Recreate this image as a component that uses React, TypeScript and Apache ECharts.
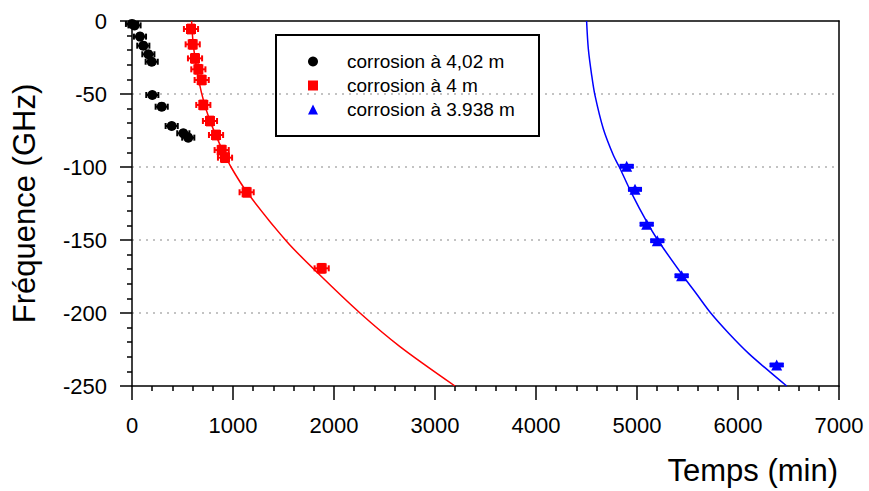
import React, { useEffect, useRef } from 'react';
import * as echarts from 'echarts';

// Measured points (temps in min, fréquence in GHz)
const blackT = [0, 25, 79, 112, 162, 195, 201, 294, 393, 508, 557];
const blackF = [-2, -3, -10.7, -16.9, -22.8, -27.9, -50.7, -58.7, -71.9, -76.9, -79.9];

const redT = [584, 601, 624, 657, 690, 706, 772, 832, 888, 921, 1135, 1878];
const redF = [-5.5, -16, -25.6, -33.1, -40.4, -57.5, -68.5, -78.1, -88.4, -93.6, -117.3, -169.4];

const blueT = [4898, 4980, 5096, 5201, 5442, 6383];
const blueF = [-99.5, -115.3, -139.2, -150.5, -174.5, -235.6];

// Fit curves
const redFitT = [590, 605, 630, 665, 710, 770, 835, 900, 980, 1136, 1532, 1845, 2257, 2653, 3198];
const redFitF = [0, -15, -28, -42, -55, -68, -79, -89, -100, -117, -151, -173, -200, -223, -250];

const blueFitT = [4501, 4518, 4551, 4584, 4667, 4766, 4825, 4940, 5100, 5205, 5460, 5590, 5730, 5910, 6110, 6310, 6482];
const blueFitF = [0, -19, -37, -51, -74, -92, -100, -117, -138, -150, -175, -187, -200, -214, -228, -240, -250];

const seriesNames = ['corrosion à 4,02 m', 'corrosion à 4 m', 'corrosion à 3.938 m'];
const colors = ['#000000', '#ff0000', '#0000ff'];

const FONT = '"Liberation Sans", Arial, sans-serif';

function zip(a: number[], b: number[]) {
  return a.map((v, i) => [v, b[i]]);
}

function errorBars(color: string, ex: number, ey: number, cap: number, xcap: number) {
  return (_params: any, api: any) => {
    const t = api.value(0);
    const f = api.value(1);
    const c = api.coord([t, f]);
    const l = api.coord([t - ex, f]);
    const r = api.coord([t + ex, f]);
    const top = api.coord([t, f + ey]);
    const bot = api.coord([t, f - ey]);
    const style = { stroke: color, lineWidth: 2 };
    return {
      type: 'group',
      children: [
        { type: 'line', shape: { x1: l[0], y1: c[1], x2: r[0], y2: c[1] }, style },
        { type: 'line', shape: { x1: l[0], y1: c[1] - xcap, x2: l[0], y2: c[1] + xcap }, style },
        { type: 'line', shape: { x1: r[0], y1: c[1] - xcap, x2: r[0], y2: c[1] + xcap }, style },
        { type: 'line', shape: { x1: c[0], y1: top[1], x2: c[0], y2: bot[1] }, style },
        { type: 'line', shape: { x1: c[0] - cap, y1: top[1], x2: c[0] + cap, y2: top[1] }, style },
        { type: 'line', shape: { x1: c[0] - cap, y1: bot[1], x2: c[0] + cap, y2: bot[1] }, style },
      ],
    };
  };
}

export default function App() {
  const ref = useRef<HTMLDivElement>(null);
  useEffect(() => {
    const chart = echarts.init(ref.current!, null, { renderer: 'svg' });
    const frameAxis = {
      axisLine: { show: true, onZero: false, lineStyle: { color: '#000', width: 1.5 } },
      axisTick: { show: false },
      axisLabel: { show: false },
      splitLine: { show: false },
    };
    const option: any = {
      animation: false,
      backgroundColor: '#ffffff',
      grid: {
        left: 132,
        top: 21,
        right: 30,
        bottom: 105,
      },
      legend: {
        data: seriesNames,
        orient: 'vertical',
        left: 308,
        top: 52,
        padding: 0,
        itemGap: 5,
        itemWidth: 10,
        itemHeight: 10,
        textStyle: { fontFamily: FONT, fontSize: 19, color: '#000', padding: [0, 0, 0, 24] },
      },
      graphic: [
        {
          type: 'rect',
          shape: { x: 276, y: 35, width: 263, height: 101 },
          style: { fill: 'transparent', stroke: '#000', lineWidth: 2 },
          z: 10,
        },
      ],
      xAxis: [
        {
          type: 'value',
          min: 0,
          max: 7000,
          interval: 1000,
          name: 'Temps (min)',
          nameLocation: 'end',
          nameGap: -1,
          nameTextStyle: {
            fontFamily: FONT,
            fontSize: 31,
            color: '#000',
            align: 'right',
            verticalAlign: 'top',
            padding: [69, 0, 0, 0],
          },
          axisLine: { onZero: false, lineStyle: { color: '#000', width: 1.5 } },
          axisTick: { inside: false, length: 14, lineStyle: { color: '#000', width: 1.5 } },
          minorTick: { show: true, splitNumber: 5, length: 5, lineStyle: { color: '#000', width: 1.5 } },
          axisLabel: {
            fontFamily: FONT,
            fontSize: 22,
            color: '#000',
            margin: 28,
            formatter: (v: number) => String(v),
          },
          splitLine: { show: false },
        },
        { type: 'value', min: 0, max: 7000, position: 'top', ...frameAxis },
      ],
      yAxis: [
        {
          type: 'value',
          min: -250,
          max: 0,
          interval: 50,
          name: 'Fréquence (GHz)',
          nameLocation: 'middle',
          nameGap: 92,
          nameRotate: 90,
          nameTextStyle: { fontFamily: FONT, fontSize: 31, color: '#000' },
          axisLine: { onZero: false, lineStyle: { color: '#000', width: 1.5 } },
          axisTick: { inside: false, length: 12, lineStyle: { color: '#000', width: 1.5 } },
          minorTick: { show: true, splitNumber: 5, length: 5, lineStyle: { color: '#000', width: 1.5 } },
          axisLabel: { fontFamily: FONT, fontSize: 22, color: '#000', margin: 25 },
          splitLine: {
            show: true,
            showMinLine: false,
            showMaxLine: false,
            lineStyle: { color: '#b0b0b0', width: 1.5, type: [2, 5] },
          },
        },
        { type: 'value', min: -250, max: 0, position: 'right', ...frameAxis },
      ],
      series: [
        {
          name: 'fit 4 m',
          type: 'line',
          data: zip(redFitT, redFitF),
          smooth: 0.3,
          showSymbol: false,
          lineStyle: { color: colors[1], width: 1.5 },
          z: 2,
        },
        {
          name: 'fit 3.938 m',
          type: 'line',
          data: zip(blueFitT, blueFitF),
          smooth: 0.3,
          showSymbol: false,
          lineStyle: { color: colors[2], width: 1.5 },
          z: 2,
        },
        {
          name: 'err 4,02',
          type: 'custom',
          renderItem: errorBars(colors[0], 60, 2, 3, 3),
          data: zip(blackT, blackF),
          encode: { x: 0, y: 1 },
          z: 3,
        },
        {
          name: 'err 4',
          type: 'custom',
          renderItem: errorBars(colors[1], 70, 3, 4, 3),
          data: zip(redT, redF),
          encode: { x: 0, y: 1 },
          z: 3,
        },
        {
          name: 'err 3.938',
          type: 'custom',
          renderItem: errorBars(colors[2], 60, 1, 7, 2),
          data: zip(blueT, blueF),
          encode: { x: 0, y: 1 },
          z: 3,
        },
        {
          name: seriesNames[0],
          type: 'scatter',
          symbol: 'circle',
          symbolSize: 10,
          itemStyle: { color: colors[0], opacity: 1 },
          data: zip(blackT, blackF),
          z: 4,
        },
        {
          name: seriesNames[1],
          type: 'scatter',
          symbol: 'rect',
          symbolSize: 10,
          itemStyle: { color: colors[1], opacity: 1 },
          data: zip(redT, redF),
          z: 4,
        },
        {
          name: seriesNames[2],
          type: 'scatter',
          symbol: 'triangle',
          symbolSize: 11,
          itemStyle: { color: colors[2], opacity: 1 },
          data: zip(blueT, blueF),
          z: 4,
        },
      ],
    };
    chart.setOption(option);
    return () => chart.dispose();
  }, []);
  return (
    <div
      ref={ref}
      style={{ position: 'fixed', left: 0, top: 0, width: 869, height: 491, background: '#fff' }}
    />
  );
}
